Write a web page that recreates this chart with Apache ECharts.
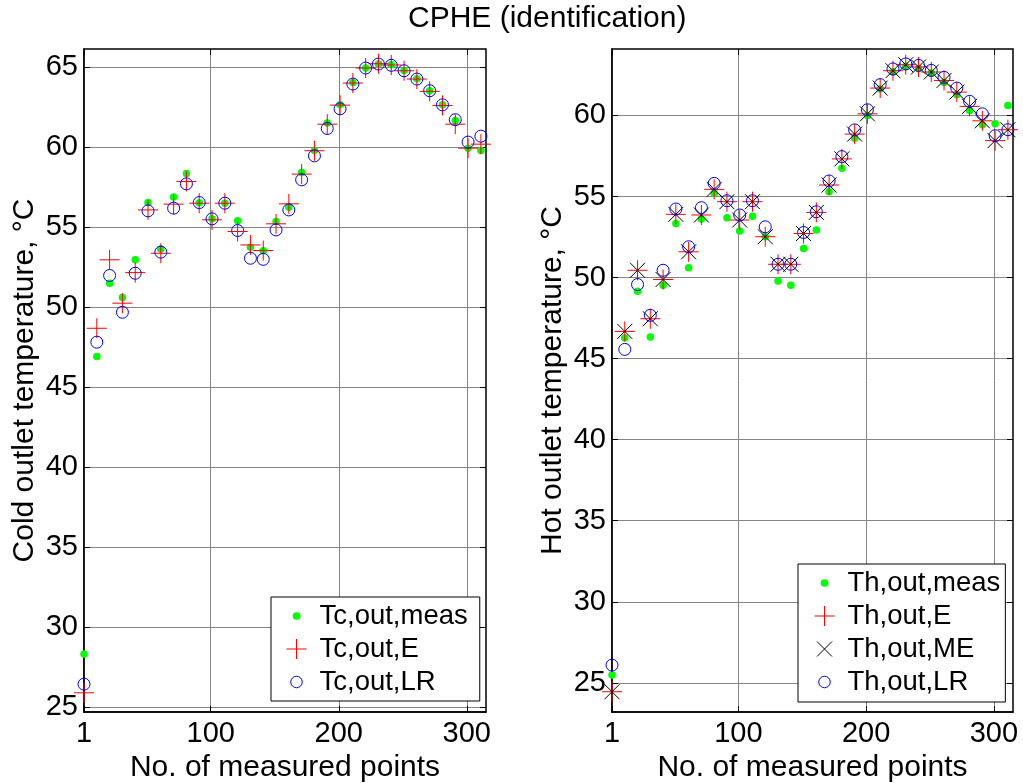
<!DOCTYPE html>
<html><head><meta charset="utf-8">
<script src="https://cdn.jsdelivr.net/npm/echarts@6/dist/echarts.min.js"></script>
<style>html,body{margin:0;padding:0;background:#fff}#c{width:1023px;height:783px}</style>
</head><body><div id="c"></div>
<script>
// ---- data ----
const pointNo = [1, 11, 21, 31, 41, 51, 61, 71, 81, 91, 101, 111, 121, 131, 141, 151, 161, 171, 181, 191, 201, 211, 221, 231, 241, 251, 261, 271, 281, 291, 301, 311];

const tcMeas = [28.33, 46.92, 51.51, 50.61, 52.97, 56.55, 53.65, 56.89, 58.37, 56.53, 55.53, 56.51, 55.41, 53.76, 53.53, 55.37, 56.26, 58.43, 59.81, 61.52, 62.66, 64.06, 64.96, 65.21, 65.17, 64.81, 64.29, 63.54, 62.66, 61.68, 59.95, 59.81];
const tcE    = [25.90, 48.69, 52.97, 50.26, 52.17, 56.09, 53.38, 56.45, 57.87, 56.51, 55.47, 56.51, 54.74, 53.90, 53.55, 55.22, 56.47, 58.33, 59.79, 61.45, 62.64, 64.02, 64.96, 65.23, 65.15, 64.79, 64.27, 63.50, 62.62, 61.45, 59.95, 60.20];
const tcLR   = [26.44, 47.82, 51.99, 49.69, 52.13, 56.03, 53.45, 56.20, 57.72, 56.55, 55.53, 56.51, 54.80, 53.07, 53.00, 54.84, 56.09, 57.97, 59.47, 61.18, 62.41, 63.96, 64.96, 65.21, 65.13, 64.79, 64.27, 63.54, 62.66, 61.73, 60.33, 60.70];

const thMeas = [25.49, 46.27, 49.15, 46.33, 49.53, 53.34, 50.60, 53.61, 55.20, 53.69, 52.87, 53.79, 52.52, 49.79, 49.53, 51.79, 52.93, 55.30, 56.74, 58.60, 60.00, 61.63, 62.68, 63.03, 62.89, 62.62, 62.04, 61.28, 60.31, 59.43, 59.49, 60.62];
const thE    = [24.45, 46.68, 50.45, 47.46, 49.88, 53.90, 51.59, 53.86, 55.44, 54.68, 53.55, 54.68, 52.52, 50.82, 50.82, 52.72, 54.02, 55.71, 57.32, 58.85, 60.10, 61.69, 62.76, 63.13, 62.99, 62.68, 62.16, 61.44, 60.56, 59.67, 58.45, 59.12];
const thME   = [24.45, 46.68, 50.45, 47.46, 49.88, 53.90, 51.59, 53.86, 55.44, 54.68, 53.55, 54.68, 52.52, 50.82, 50.82, 52.72, 54.02, 55.71, 57.32, 58.85, 60.10, 61.69, 62.76, 63.13, 62.99, 62.68, 62.16, 61.44, 60.56, 59.67, 58.45, 59.12];
const thLR   = [26.09, 45.57, 49.57, 47.67, 50.45, 54.23, 51.90, 54.31, 55.81, 54.74, 53.86, 54.74, 53.13, 50.82, 50.82, 52.78, 54.06, 55.96, 57.46, 59.11, 60.35, 61.90, 62.87, 63.18, 63.09, 62.78, 62.35, 61.69, 60.87, 60.10, 58.75, 59.12];

const xTicks = [1, 100, 200, 300];
const yTicksCold = [25, 30, 35, 40, 45, 50, 55, 60, 65];
const yTicksHot = [25, 30, 35, 40, 45, 50, 55, 60];

const titleText = 'CPHE (identification)';
const xName = 'No. of measured points';
const yNameCold = 'Cold outlet temperature, \u00B0C';
const yNameHot = 'Hot outlet temperature, \u00B0C';
const namesCold = ['Tc,out,meas', 'Tc,out,E', 'Tc,out,LR'];
const namesHot = ['Th,out,meas', 'Th,out,E', 'Th,out,ME', 'Th,out,LR'];

// ---- styling ----
const FONT = 'Liberation Sans, Arial, sans-serif';
const GREEN = '#00ff00', RED = '#ff0000', BLUE = '#0000ff', BLACK = '#000000';
const PLUS = 'path://M0,-10L0,10M-10,0L10,0';
const CROSS = 'path://M-10,-10L10,10M-10,10L10,-10';
const ICON_DOT = 'path://M0,0L0,0M20,20L20,20M13.85,10A3.85,3.85,0,1,1,6.15,10A3.85,3.85,0,1,1,13.85,10Z';
const ICON_PLUS = 'path://M10,0L10,20M0,10L20,10';
const ICON_CROSS = 'path://M0,0L0,0M20,20L20,20M2.5,2.5L17.5,17.5M2.5,17.5L17.5,2.5';
const ICON_CIRC = 'path://M0,0L0,0M20,20L20,20M15.75,10A5.75,5.75,0,1,1,4.25,10A5.75,5.75,0,1,1,15.75,10Z';

const pairs = arr => pointNo.map((x, i) => [x, arr[i]]);

function mainX(grid) {
  return {
    gridIndex: grid, type: 'value', position: 'bottom', min: 1, max: 315,
    name: xName, nameLocation: 'middle', nameGap: 38,
    nameTextStyle: {fontSize: 30, color: '#000', fontFamily: FONT},
    axisLine: {show: true, onZero: false, lineStyle: {color: '#000', width: 1.5}},
    axisTick: {show: true, inside: true, length: 6, customValues: xTicks, lineStyle: {color: '#000'}},
    axisLabel: {show: true, customValues: xTicks, margin: 7, fontSize: 29, color: '#000', fontFamily: FONT},
    splitLine: {show: true, lineStyle: {color: '#858585', width: 1}}
  };
}
function topX(grid) {
  return {
    gridIndex: grid, type: 'value', position: 'top', min: 1, max: 315,
    axisLine: {show: false, onZero: false},
    axisTick: {show: true, inside: true, length: 6, customValues: xTicks, lineStyle: {color: '#000'}},
    axisLabel: {show: false, customValues: xTicks},
    splitLine: {show: false}
  };
}
function mainY(grid, min, max, ticks, name) {
  return {
    gridIndex: grid, type: 'value', position: 'left', min: min, max: max,
    name: name, nameLocation: 'middle', nameGap: 44, nameRotate: 90,
    nameTextStyle: {fontSize: 30, color: '#000', fontFamily: FONT},
    axisLine: {show: true, onZero: false, lineStyle: {color: '#000', width: 1.5}},
    axisTick: {show: true, inside: true, length: 6, customValues: ticks, lineStyle: {color: '#000'}},
    axisLabel: {show: true, customValues: ticks, margin: 6, fontSize: 29, color: '#000', fontFamily: FONT},
    splitLine: {show: true, lineStyle: {color: '#858585', width: 1}}
  };
}
function rightY(grid, min, max, ticks) {
  return {
    gridIndex: grid, type: 'value', position: 'right', min: min, max: max,
    axisLine: {show: false, onZero: false},
    axisTick: {show: true, inside: true, length: 6, customValues: ticks, lineStyle: {color: '#000'}},
    axisLabel: {show: false, customValues: ticks},
    splitLine: {show: false}
  };
}
function sc(name, xi, yi, arr, symbol, size, color, stroke) {
  return {
    name: name, type: 'scatter', xAxisIndex: xi, yAxisIndex: yi, data: pairs(arr),
    symbol: symbol, symbolSize: size, clip: false,
    itemStyle: stroke ? {color: 'rgba(0,0,0,0)', borderColor: color, borderWidth: 1, opacity: 1}
                      : {color: color, borderWidth: 0, opacity: 1},
    emphasis: {disabled: true}
  };
}
function legendItem(name, icon, color, stroke) {
  return {
    name: name, icon: icon,
    itemStyle: stroke ? {color: 'rgba(0,0,0,0)', borderColor: color, borderWidth: 1}
                      : {color: color, borderColor: color, borderWidth: 0}
  };
}
const legendText = {fontSize: 27.5, color: '#000', fontFamily: FONT, lineHeight: 30};

const option = {
  animation: false,
  backgroundColor: '#fff',
  textStyle: {fontFamily: FONT},
  title: {text: titleText, left: 408, top: 4, padding: 0,
          textStyle: {fontSize: 30, fontWeight: 'normal', color: '#000', fontFamily: FONT}},
  grid: [
    {left: 84, top: 49, width: 402, height: 663, show: true, borderColor: '#000', borderWidth: 1.5, backgroundColor: '#fff', containLabel: false, outerBoundsMode: 'none'},
    {left: 612, top: 49, width: 401, height: 663, show: true, borderColor: '#000', borderWidth: 1.5, backgroundColor: '#fff', containLabel: false, outerBoundsMode: 'none'}
  ],
  xAxis: [mainX(0), topX(0), mainX(1), topX(1)],
  yAxis: [
    mainY(0, 24.7, 66.15, yTicksCold, yNameCold), rightY(0, 24.7, 66.15, yTicksCold),
    mainY(1, 23.2, 64.1, yTicksHot, yNameHot), rightY(1, 23.2, 64.1, yTicksHot)
  ],
  legend: [
    {orient: 'vertical', left: 271, top: 597, padding: [4, 12, 4, 15], itemGap: 3, itemWidth: 36, itemHeight: 20,
     selectedMode: false, borderColor: '#000', borderWidth: 1, backgroundColor: '#fff', borderRadius: 0,
     textStyle: legendText,
     data: [legendItem(namesCold[0], ICON_DOT, GREEN, false), legendItem(namesCold[1], ICON_PLUS, RED, true), legendItem(namesCold[2], ICON_CIRC, BLUE, true)]},
    {orient: 'vertical', left: 798, top: 564, padding: [4, 5, 5, 16], itemGap: 3, itemWidth: 36, itemHeight: 20,
     selectedMode: false, borderColor: '#000', borderWidth: 1, backgroundColor: '#fff', borderRadius: 0,
     textStyle: legendText,
     data: [legendItem(namesHot[0], ICON_DOT, GREEN, false), legendItem(namesHot[1], ICON_PLUS, RED, true), legendItem(namesHot[2], ICON_CROSS, BLACK, true), legendItem(namesHot[3], ICON_CIRC, BLUE, true)]}
  ],
  series: [
    sc(namesCold[0], 0, 0, tcMeas, 'circle', 7.5, GREEN, false),
    sc(namesCold[1], 0, 0, tcE, PLUS, 20, RED, true),
    sc(namesCold[2], 0, 0, tcLR, 'circle', 12, BLUE, true),
    sc(namesHot[0], 2, 2, thMeas, 'circle', 7.5, GREEN, false),
    sc(namesHot[1], 2, 2, thE, PLUS, 20, RED, true),
    sc(namesHot[2], 2, 2, thME, CROSS, 15, BLACK, true),
    sc(namesHot[3], 2, 2, thLR, 'circle', 12, BLUE, true)
  ]
};
const chart = echarts.init(document.getElementById('c'), null, {renderer: 'canvas'});
chart.setOption(option);
</script>
</body></html>
